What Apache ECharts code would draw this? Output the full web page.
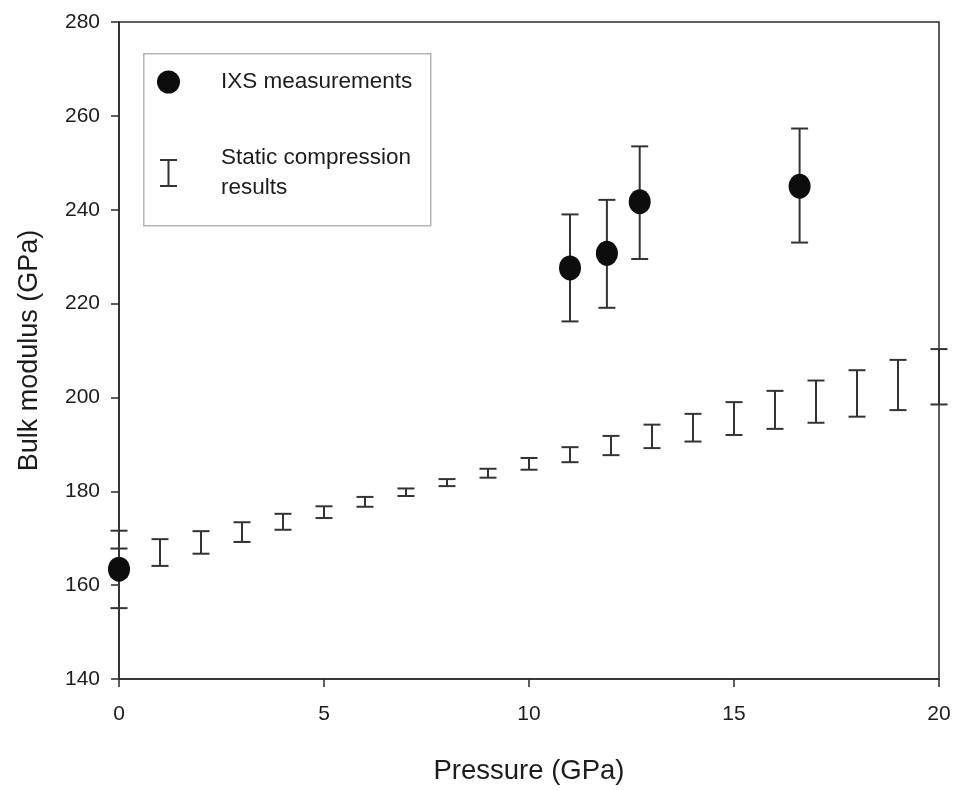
<!DOCTYPE html>
<html>
<head>
<meta charset="utf-8">
<script src="https://cdn.jsdelivr.net/npm/echarts@6/dist/echarts.min.js"></script>
<style>
html,body{margin:0;padding:0;background:#fff;}
#chart{width:954px;height:790px;}
</style>
</head>
<body>
<div id="chart"></div>
<script>
// Static compression results (pressure, lower and upper bound)
const staticP = [0,1,2,3,4,5,6,7,8,9,10,11,12,13,14,15,16,17,18,19,20];
const staticLow = [161.8,164.1,166.7,169.2,171.8,174.3,176.7,179.0,181.1,182.9,184.6,186.2,187.7,189.2,190.6,192.0,193.3,194.6,195.9,197.3,198.5];
const staticHigh = [167.8,169.8,171.5,173.4,175.2,176.8,178.8,180.6,182.6,184.8,187.1,189.4,191.8,194.2,196.5,199.0,201.4,203.6,205.8,208.0,210.3];

// IXS measurements
const ixsP = [0, 11.0, 11.9, 12.7, 16.6];
const ixsB = [163.4, 227.6, 230.7, 241.7, 245.0];
const ixsLow = [155.1, 216.2, 219.1, 229.5, 233.0];
const ixsHigh = [171.6, 239.0, 242.1, 253.5, 257.3];

const xTicks = [0, 5, 10, 15, 20];
const yTicks = [140, 160, 180, 200, 220, 240, 260, 280];

const FONT = '"Liberation Sans", Arial, sans-serif';
const INK = '#1c1c1c';
const BAR = '#333333';

function errRender(params, api) {
  const x = api.value(0), lo = api.value(1), hi = api.value(2);
  const pt = api.coord([x, hi]);
  const pb = api.coord([x, lo]);
  const w = 8.5;
  const st = { stroke: BAR, lineWidth: 2 };
  return {
    type: 'group',
    children: [
      { type: 'line', shape: { x1: pt[0], y1: pt[1], x2: pb[0], y2: pb[1] }, style: st },
      { type: 'line', shape: { x1: pt[0] - w, y1: pt[1], x2: pt[0] + w, y2: pt[1] }, style: st },
      { type: 'line', shape: { x1: pb[0] - w, y1: pb[1], x2: pb[0] + w, y2: pb[1] }, style: st }
    ]
  };
}

const staticData = staticP.map((p, i) => [p, staticLow[i], staticHigh[i]]);
const ixsErrData = ixsP.map((p, i) => [p, ixsLow[i], ixsHigh[i]]);
const ixsData = ixsP.map((p, i) => [p, ixsB[i]]);

const chart = echarts.init(document.getElementById('chart'), null, { renderer: 'canvas' });
chart.setOption({
  backgroundColor: '#ffffff',
  animation: false,
  textStyle: { fontFamily: FONT },
  grid: {
    left: 119, right: 15, top: 22, bottom: 108,
    show: true, borderColor: '#2a2a2a', borderWidth: 1.5, backgroundColor: 'transparent'
  },
  xAxis: {
    type: 'value', min: 0, max: 20, interval: 5,
    name: 'Pressure (GPa)', nameLocation: 'middle', nameGap: 78,
    nameTextStyle: { fontSize: 27.5, color: INK, fontFamily: FONT },
    axisLine: { lineStyle: { color: '#2a2a2a', width: 1.5 } },
    axisTick: { show: true, inside: false, length: 8, lineStyle: { color: '#2a2a2a', width: 1.5 } },
    axisLabel: { fontSize: 21, color: INK, margin: 25, fontFamily: FONT,
      formatter: v => xTicks.includes(v) ? String(v) : '' },
    splitLine: { show: false }
  },
  yAxis: {
    type: 'value', min: 140, max: 280, interval: 20,
    name: 'Bulk modulus (GPa)', nameLocation: 'middle', nameGap: 76,
    nameTextStyle: { fontSize: 27, color: INK, fontFamily: FONT },
    axisLine: { lineStyle: { color: '#2a2a2a', width: 1.5 } },
    axisTick: { show: true, inside: false, length: 8, lineStyle: { color: '#2a2a2a', width: 1.5 } },
    axisLabel: { fontSize: 21, color: INK, margin: 19, fontFamily: FONT,
      formatter: v => yTicks.includes(v) ? String(v) : '' },
    splitLine: { show: false }
  },
  graphic: [
    { type: 'rect', left: 143, top: 53, shape: { width: 287, height: 172 },
      style: { fill: '#ffffff', stroke: '#b5b5b5', lineWidth: 1.5 }, z: 5 }
  ],
  legend: {
    orient: 'vertical', left: 152, top: 62, itemWidth: 23, itemHeight: 28, itemGap: 46,
    z: 10,
    textStyle: { fontSize: 22.5, color: INK, fontFamily: FONT, lineHeight: 30, padding: [0, 0, 0, 36] },
    data: [
      { name: 'IXS measurements', icon: 'circle', itemStyle: { color: '#0d0d0d' } },
      { name: 'Static compression\nresults', icon: 'path://M0,0H17V2H9.5V26H17V28H0V26H7.5V2H0Z', itemStyle: { color: BAR } }
    ]
  },
  series: [
    {
      name: 'Static compression\nresults', type: 'custom', renderItem: errRender,
      data: staticData, encode: { x: 0, y: [1, 2] }, clip: false, z: 3,
      itemStyle: { color: BAR }
    },
    {
      name: 'IXS error', type: 'custom', renderItem: errRender,
      data: ixsErrData, encode: { x: 0, y: [1, 2] }, clip: false, z: 3
    },
    {
      name: 'IXS measurements', type: 'scatter', data: ixsData,
      symbol: 'circle', symbolSize: [22, 25], z: 4,
      itemStyle: { color: '#0d0d0d', opacity: 1 }
    }
  ]
});
</script>
</body>
</html>
